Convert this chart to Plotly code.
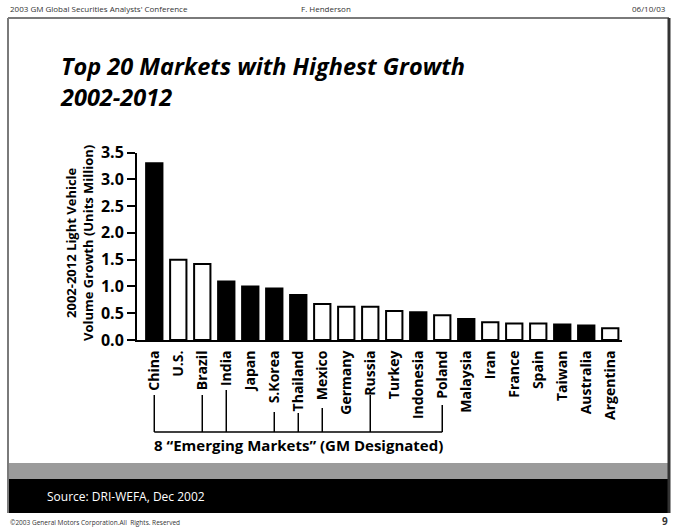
import plotly.graph_objects as go

# ---------------- data ----------------
markets = ["China", "U.S.", "Brazil", "India", "Japan", "S.Korea", "Thailand", "Mexico",
           "Germany", "Russia", "Turkey", "Indonesia", "Poland", "Malaysia", "Iran",
           "France", "Spain", "Taiwan", "Australia", "Argentina"]
growth = [3.3, 1.5, 1.42, 1.09, 1.0, 0.96, 0.84, 0.67, 0.62, 0.62, 0.54, 0.52, 0.46,
          0.39, 0.33, 0.31, 0.31, 0.29, 0.27, 0.22]
asia_pacific = ["China", "India", "Japan", "S.Korea", "Thailand", "Indonesia",
                "Malaysia", "Taiwan", "Australia"]
emerging = ["China", "Brazil", "India", "S.Korea", "Thailand", "Mexico", "Russia", "Poland"]
y_ticks = [0.0, 0.5, 1.0, 1.5, 2.0, 2.5, 3.0, 3.5]

# ---------------- layout helpers (pixel -> paper) ----------------
W, H = 678, 532
def px(x):
    return x / W
def py(y):
    return 1 - y / H

FONT = "Open Sans"
fill = ["black" if m in asia_pacific else "white" for m in markets]

fig = go.Figure()
fig.add_trace(go.Bar(
    x=markets, y=growth, width=0.68,
    marker=dict(color=fill, line=dict(color="black", width=2)),
    hoverinfo="x+y", showlegend=False,
))

# bracket tops (pixel y, just below each rotated label)
bracket_top = {"China": 395, "Brazil": 395, "India": 390, "S.Korea": 412,
               "Thailand": 413, "Mexico": 408, "Russia": 395, "Poland": 405}
bracket_y = 432
shapes = []
for m in emerging:
    shapes.append(dict(type="line", xref="x", yref="paper", x0=m, x1=m,
                       y0=py(bracket_top[m]), y1=py(bracket_y),
                       line=dict(color="black", width=1.5)))
shapes.append(dict(type="line", xref="x", yref="paper", x0=emerging[0], x1=emerging[-1],
                   y0=py(bracket_y), y1=py(bracket_y), line=dict(color="black", width=1.5)))

# slide frame and bands
shapes += [
    dict(type="rect", xref="paper", yref="paper", x0=px(8), x1=px(669), y0=py(479), y1=py(463),
         fillcolor="#9b9b9b", line=dict(width=0), layer="below"),
    dict(type="rect", xref="paper", yref="paper", x0=px(8), x1=px(669), y0=py(513), y1=py(479),
         fillcolor="black", line=dict(width=0), layer="below"),
    dict(type="line", xref="paper", yref="paper", x0=px(8), x1=px(669), y0=py(18), y1=py(18),
         line=dict(color="#7a7a7a", width=2)),
    dict(type="line", xref="paper", yref="paper", x0=px(8), x1=px(8), y0=py(18), y1=py(513),
         line=dict(color="#7a7a7a", width=2)),
    dict(type="line", xref="paper", yref="paper", x0=px(669), x1=px(669), y0=py(18), y1=py(513),
         line=dict(color="#333333", width=3)),
]

annotations = [
    dict(text="2003 GM Global Securities Analysts' Conference", x=px(8), y=py(8),
         xanchor="left", yanchor="middle", font=dict(size=8, color="#333", family=FONT)),
    dict(text="F. Henderson", x=px(326), y=py(8), xanchor="center", yanchor="middle",
         font=dict(size=8, color="#333", family=FONT)),
    dict(text="06/10/03", x=px(668), y=py(8), xanchor="right", yanchor="middle",
         font=dict(size=8, color="#333", family=FONT)),
    dict(text="<b><i>Top 20 Markets with Highest Growth<br>2002-2012</i></b>", x=px(58), y=py(48),
         xanchor="left", yanchor="top", align="left",
         font=dict(size=23.5, color="black", family=FONT)),
    dict(text="<b>2002-2012 Light Vehicle<br>Volume Growth (Units Million)</b>",
         x=px(79), y=py(243), textangle=-90, xanchor="center", yanchor="middle",
         font=dict(size=13, color="black", family=FONT)),
    dict(text="<b>8 \u201cEmerging Markets\u201d (GM Designated)</b>", x=px(298), y=py(445),
         xanchor="center", yanchor="middle", font=dict(size=15, color="black", family=FONT)),
    dict(text="Source: DRI-WEFA, Dec 2002", x=px(45), y=py(496), xanchor="left", yanchor="middle",
         font=dict(size=12, color="white", family=FONT)),
    dict(text="\u00a92003 General Motors Corporation.All  Rights. Reserved", x=px(8), y=py(522),
         xanchor="left", yanchor="middle", font=dict(size=6.5, color="#333", family=FONT)),
    dict(text="<b>9</b>", x=px(670), y=py(521), xanchor="right", yanchor="middle",
         font=dict(size=10, color="#333", family=FONT)),
]
for a in annotations:
    a.update(xref="paper", yref="paper", showarrow=False)

fig.update_layout(
    width=W, height=H, margin=dict(l=0, r=0, t=0, b=0, pad=0, autoexpand=False),
    paper_bgcolor="white", plot_bgcolor="white",
    shapes=shapes, annotations=annotations, bargap=0.3,
    xaxis=dict(domain=[px(137), px(622)], range=[-0.72, 19.49], type="category",
               automargin=False,
               showline=True, linecolor="black", linewidth=2, ticks="", showgrid=False,
               tickangle=-90, tickfont=dict(size=14, family=FONT, color="black"),
               ticklabelstandoff=3, zeroline=False),
    yaxis=dict(domain=[py(340), py(152.5)], range=[0, 3.5], tickvals=y_ticks,
               automargin=False,
               ticktext=["<b>%.1f</b>" % v for v in y_ticks],
               showline=True, linecolor="black", linewidth=2, ticks="outside", ticklen=8,
               tickwidth=2, tickcolor="black", showgrid=False, zeroline=False,
               tickfont=dict(size=16, family=FONT, color="black")),
)
fig.update_xaxes(ticktext=["<b>%s</b>" % m for m in markets], tickvals=markets)

fig.write_html("out.html", config={"displayModeBar": False},
               post_script="document.body.style.margin='0';document.body.style.overflow='hidden';")
